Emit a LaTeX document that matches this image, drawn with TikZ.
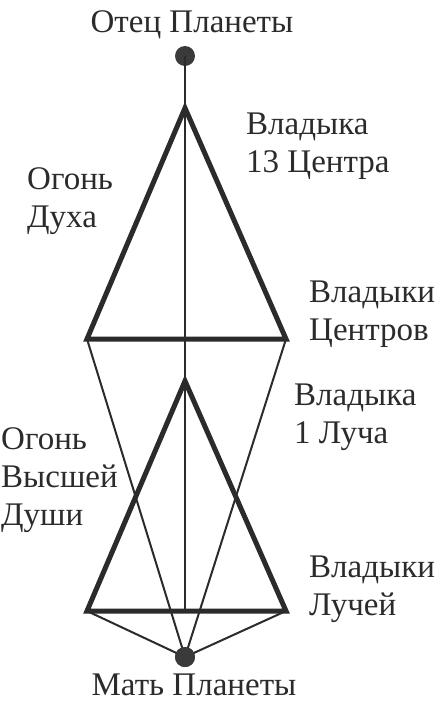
\documentclass[tikz,border=0pt]{standalone}
\usepackage{fontspec}
\setmainfont{Liberation Serif}
\usepackage{tikz}
\usetikzlibrary{positioning}
\usepackage{xcolor}

\definecolor{inkgray}{HTML}{2B2B2B}
\definecolor{dotgray}{HTML}{3A3A3A}

\tikzset{
  pole/.style={fill=dotgray, circle, inner sep=0pt, minimum size=20pt},
  heavy/.style={inkgray, line width=5pt, line join=miter},
  light/.style={inkgray, line width=2pt},
  caption/.style={inner sep=0pt, align=left, text=inkgray, font=\fontsize{33}{38}\selectfont}
}

\begin{document}
\begin{tikzpicture}[x=1pt, y=-1pt]
    \useasboundingbox (0, 0) rectangle (438, 702);

    \coordinate (T1) at (185, 108);
    \coordinate (T1L) at (87, 339);
    \coordinate (T1R) at (286, 339);

    \coordinate (T2) at (185, 381);
    \coordinate (T2L) at (87, 611);
    \coordinate (T2R) at (286, 611);
    \coordinate (T2M) at (185, 611);

    \node [pole] (OP) at (185, 56) {};
    \node [pole] (MP) at (185, 657) {};

    \draw [light] (OP.center) to (T2M);

    \draw [light] (T1L) to (MP.center);
    \draw [light] (T1R) to (MP.center);
    \draw [light] (T2L) to (MP.center);
    \draw [light] (T2R) to (MP.center);

    \draw [heavy] (T1) -- (T1L) -- (T1R) -- cycle;
    \draw [heavy] (T2) -- (T2L) -- (T2R) -- cycle;

    \node [pole] at (MP) {};

    \node [caption, anchor=base] (OPtext) at (192, 32) {Отец Планеты};
    \node [caption, anchor=base] (MPtext) at (194, 695) {Мать Планеты};

    \node [caption, anchor=north west] (T1text) at (246, 113) {Владыка\\13 Центра};
    \node [caption, anchor=north west] (F1text) at (27, 167) {Огонь\\Духа};
    \node [caption, anchor=north west] (T1Rtext) at (309, 281) {Владыки\\Центров};

    \node [caption, anchor=north west] (T2text) at (294, 384) {Владыка\\1 Луча};
    \node [caption, anchor=north west] (F2text) at (1, 427) {Огонь\\Высшей\\Души};
    \node [caption, anchor=north west] (T2Rtext) at (309, 556) {Владыки\\Лучей};
  \end{tikzpicture}
\end{document}
